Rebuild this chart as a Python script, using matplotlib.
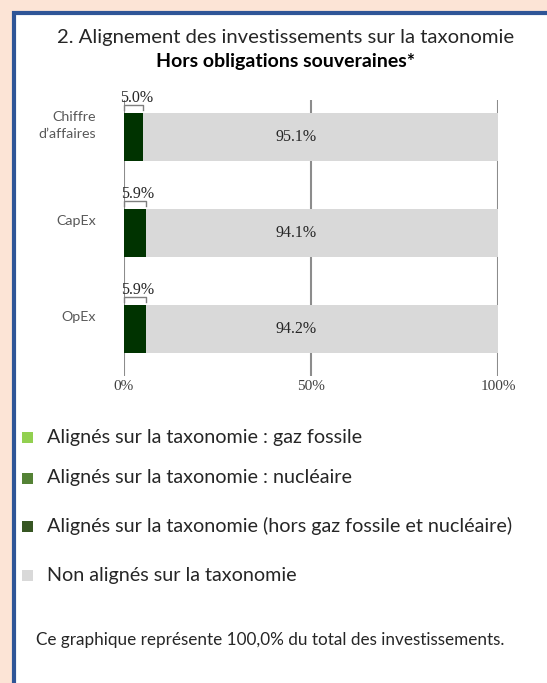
import numpy as np
import matplotlib.pyplot as plt
from matplotlib.patches import Rectangle
import matplotlib.transforms as mtransforms

#   Data
categories = ["Chiffre\nd\u2019affaires", "CapEx", "OpEx"]
aligned = [5.0, 5.9, 5.9]
not_aligned = [95.1, 94.1, 94.2]
xticks = [0, 50, 100]
xtick_labels = ["0%", "50%", "100%"]

legend_labels = ["Align\u00e9s sur la taxonomie : gaz fossile",
                 "Align\u00e9s sur la taxonomie : nucl\u00e9aire",
                 "Align\u00e9s sur la taxonomie (hors gaz fossile et nucl\u00e9aire)",
                 "Non align\u00e9s sur la taxonomie"]
legend_colors = ["#92d050", "#548235", "#375623", "#d9d9d9"]

W, H = 547, 683
fig = plt.figure(figsize=(W / 100, H / 100), dpi=100)
fig.patch.set_facecolor("#fce4d6")

#   White panel with blue border (left and top visible)
fig.patches.append(Rectangle((13.5 / W, -0.1), 1.2, 1 - 13.5 / H + 0.1,
                             transform=fig.transFigure, facecolor="white",
                             edgecolor="#2f5597", linewidth=3, zorder=-5))

sans = "Lato"
serif = "Liberation Serif"

fig.text(286 / W, 1 - 38 / H, "2. Alignement des investissements sur la taxonomie",
         ha="center", va="center", fontsize=14.6, family=sans, color="#262626")
fig.text(286 / W, 1 - 62 / H, "Hors obligations souveraines*",
         ha="center", va="center", fontsize=14, family=sans, fontweight="bold",
         color="black")

ax = fig.add_axes([124 / W, 1 - 376 / H, 374 / W, 276 / H])
ax.set_zorder(2)
ax.set_facecolor("none")
y = np.arange(len(categories))
ax.barh(y, aligned, height=0.5, color="#003300", zorder=3)
ax.barh(y, not_aligned, left=aligned, height=0.5, color="#d9d9d9", zorder=3)

ax.set_xlim(0, 100)
ax.set_ylim(2.49, -0.385)
for xv in xticks:
    ax.axvline(xv, color="#8c8c8c", linewidth=1.5, zorder=1)
for s in ax.spines.values():
    s.set_visible(False)
ax.set_xticks(xticks)
ax.set_xticklabels(xtick_labels, family=serif, fontsize=11, color="#404040")
ax.tick_params(axis="x", length=0, pad=3)
ax.set_yticks([])

trans = mtransforms.blended_transform_factory(ax.transAxes, ax.transData)
for i, cat in enumerate(categories):
    ax.text(-0.075, i - 0.12, cat, transform=trans, ha="right", va="center",
            fontsize=10.3, family=sans, color="#595959", linespacing=1.45)
    #   small label above the aligned part, with a bracket
    ax.text(aligned[i] / 2 + 0.8, i - 0.325, f"{aligned[i]:.1f}%", ha="center",
            va="bottom", family=serif, fontsize=11.5, color="#262626")
    ax.plot([0, 0, aligned[i], aligned[i]], [i - 0.28, i - 0.33, i - 0.33, i - 0.28],
            color="#7f7f7f", linewidth=1, zorder=4, clip_on=False)
    ax.text(46, i, f"{not_aligned[i]:.1f}%", ha="center", va="center",
            family=serif, fontsize=11.5, color="#262626", zorder=5)

#   Legend drawn by hand
leg_y = [437, 478, 526, 575]
for lab, col, yy in zip(legend_labels, legend_colors, leg_y):
    fig.patches.append(Rectangle((22 / W, 1 - (yy + 6) / H), 11 / W, 11 / H,
                                 transform=fig.transFigure, facecolor=col,
                                 edgecolor="none"))
    fig.text(47 / W, 1 - yy / H, lab, ha="left", va="center", fontsize=14.2,
             family=sans, color="#262626")

fig.text(270 / W, 1 - 640 / H,
         "Ce graphique repr\u00e9sente 100,0% du total des investissements.",
         ha="center", va="center", fontsize=12.3, family=sans, color="#262626")

fig.savefig("out.png", dpi=100, facecolor=fig.get_facecolor())
